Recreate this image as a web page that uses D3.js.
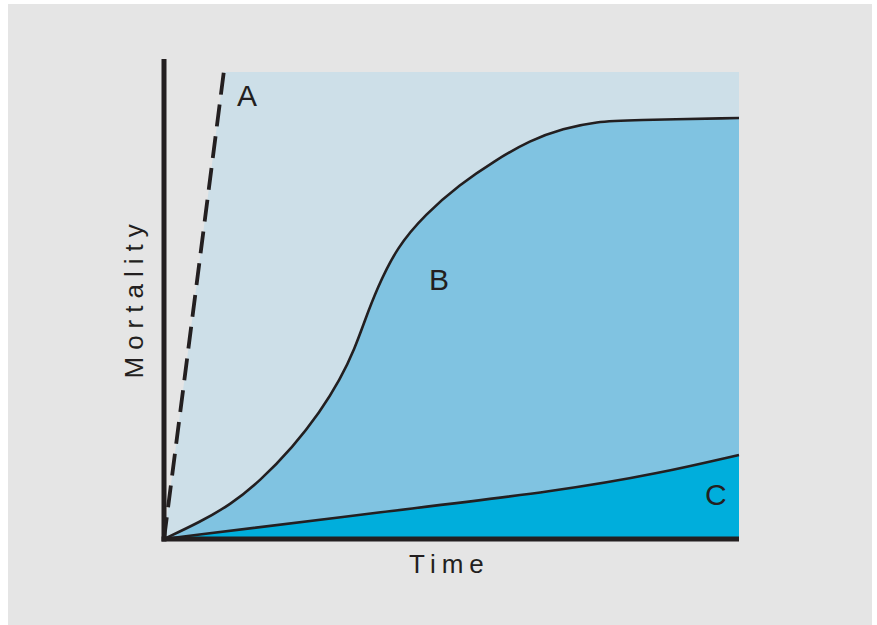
<!DOCTYPE html>
<html><head><meta charset="utf-8">
<script src="https://cdn.jsdelivr.net/npm/d3@7"></script>
<style>body{margin:0;background:#fff}svg{display:block}</style>
</head><body>
<script>
// Data (time 0..100, mortality 0..100)
const curveA = [[0,0],[10.4,100]];
const curveB = [[0,0],[6.26,3.64],[11.48,7.28],[16.7,12.42],[22.43,19.7],[27.13,27.19],[30.61,34.05],[33.22,40.9],[34.96,46.9],[37.0,53.5],[40.5,62.5],[45.5,69.6],[51.4,75.9],[57.5,81.0],[63.7,85.4],[69.4,87.9],[75.3,89.4],[81.0,89.7],[100,90.15]];
const curveC = [[0,0],[39.3,6.0],[68.9,10.3],[86.3,14.1],[100,18.0]];
const seriesLabels = [{t:"A",x:12.7,y:92.8},{t:"B",x:46.1,y:53.4},{t:"C",x:94.1,y:7.3}];
const axisTitles = {x:"Time", y:"Mortality"};

const W=877,H=625;
const svg=d3.select("body").append("svg").attr("width",W).attr("height",H);
svg.append("rect").attr("x",8).attr("y",4).attr("width",864).attr("height",621).attr("fill","#e5e5e5");

const x=d3.scaleLinear().domain([0,100]).range([164,739]);
const y=d3.scaleLinear().domain([0,100]).range([539,72]);

// Light region bounded by A
const light=[curveA[0],curveA[1],[100,100],[100,0]];
svg.append("path").attr("d",d3.line().x(d=>x(d[0])).y(d=>y(d[1]))(light)+"Z").attr("fill","#cddfe8");

const cv=d3.curveBasis;
const area=d3.area().x(d=>x(d[0])).y0(y(0)).y1(d=>y(d[1])).curve(cv);
const line=d3.line().x(d=>x(d[0])).y(d=>y(d[1])).curve(cv);

svg.append("path").attr("d",area(curveB)).attr("fill","#80c3e1");
svg.append("path").attr("d",area(curveC)).attr("fill","#00aedc");

svg.append("path").attr("d",line(curveB)).attr("fill","none").attr("stroke","#231f20").attr("stroke-width",2.6);
svg.append("path").attr("d",line(curveC)).attr("fill","none").attr("stroke","#231f20").attr("stroke-width",2.6);
svg.append("path").attr("d",d3.line().x(d=>x(d[0])).y(d=>y(d[1]))(curveA)).attr("fill","none")
  .attr("stroke","#231f20").attr("stroke-width",3.8).attr("stroke-dasharray","22,10");

// axes
svg.append("line").attr("x1",x(0)).attr("x2",x(0)).attr("y1",59).attr("y2",541.5).attr("stroke","#231f20").attr("stroke-width",5);
svg.append("line").attr("x1",161.5).attr("x2",x(100)).attr("y1",y(0)).attr("y2",y(0)).attr("stroke","#231f20").attr("stroke-width",5);

const font="Liberation Sans, Arial, Helvetica, sans-serif";
svg.selectAll("text.lab").data(seriesLabels).enter().append("text").attr("class","lab")
  .attr("x",d=>x(d.x)).attr("y",d=>y(d.y)).text(d=>d.t)
  .attr("font-family",font).attr("font-size",30).attr("fill","#231f20");

svg.append("text").attr("x",409).attr("y",573).text(axisTitles.x)
  .attr("font-family",font).attr("font-size",26).attr("letter-spacing",6).attr("fill","#231f20");
svg.append("text").attr("transform","translate(143,378.5) rotate(-90)").text(axisTitles.y)
  .attr("font-family",font).attr("font-size",26).attr("letter-spacing",7).attr("fill","#231f20");
</script>
</body></html>
